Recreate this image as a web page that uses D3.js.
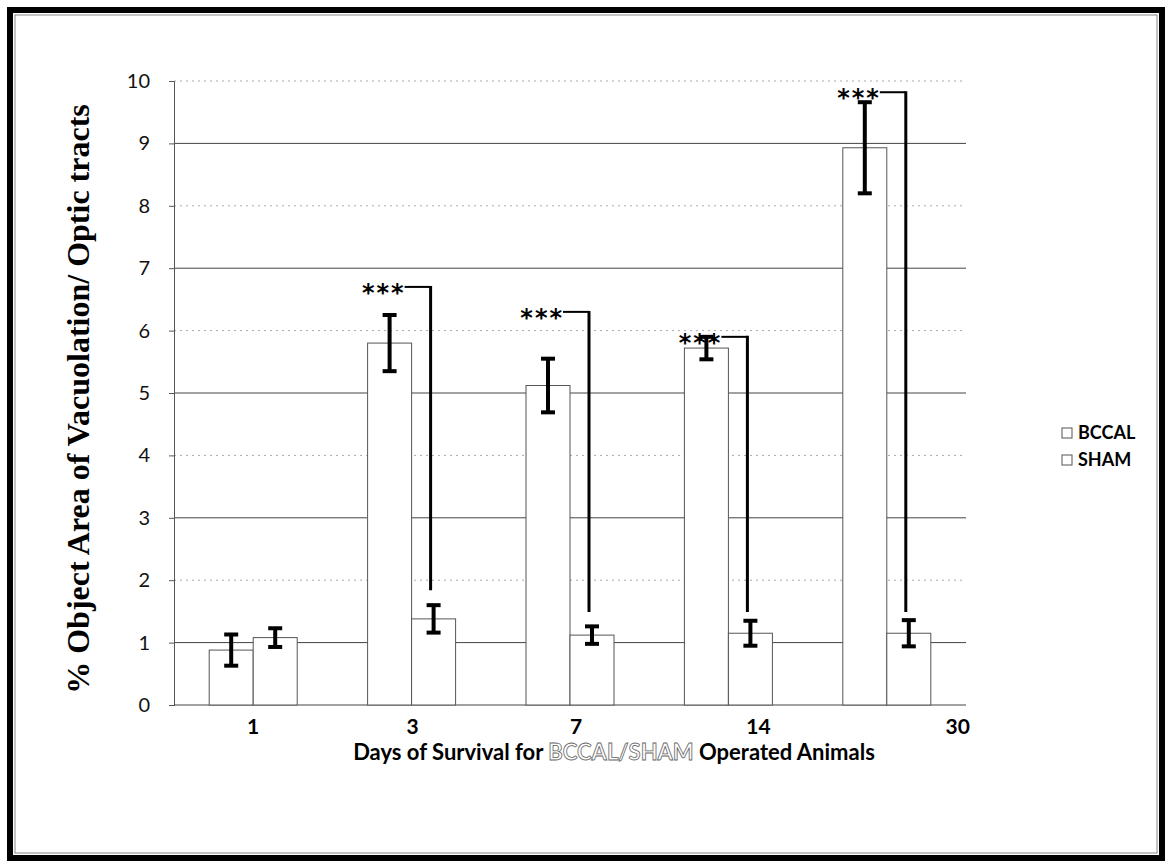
<!DOCTYPE html>
<html>
<head>
<meta charset="utf-8">
<script src="https://cdn.jsdelivr.net/npm/d3@7"></script>
<style>
  body { margin: 0; background: #fff; }
  svg { display: block; }
</style>
</head>
<body>
<div id="chart"></div>
<script>
// Chart data
const days = ["1", "3", "7", "14", "30"];
const series = ["BCCAL", "SHAM"];
const bccal = [0.88, 5.8, 5.12, 5.72, 8.93];
const bccalErr = [0.25, 0.45, 0.43, 0.18, 0.73];
const sham = [1.08, 1.38, 1.12, 1.15, 1.15];
const shamErr = [0.15, 0.22, 0.14, 0.2, 0.21];
const sigLabel = ["", "***", "***", "***", "***"];
const sigTop = [null, 6.7, 6.3, 5.9, 9.82];
const sigBottom = [null, 1.84, 1.49, 1.49, 1.49];
const yTicks = [0, 1, 2, 3, 4, 5, 6, 7, 8, 9, 10];

const width = 1167
const height = 862
const plot = { left: 174, right: 966, top: 81, bottom: 705 }
// the original day labels drift right of their groups
const labelNudge = [0, 1, 6, 30, 71]

const svg = d3.select("#chart")
  .append("svg")
  .attr("width", width)
  .attr("height", height)

// Frame
svg.append("rect")
  .attr("x", 10).attr("y", 10)
  .attr("width", 1152).attr("height", 848)
  .attr("fill", "none")
  .attr("stroke", "#000")
  .attr("stroke-width", 6)
svg.append("rect")
  .attr("x", 15).attr("y", 15)
  .attr("width", 1142).attr("height", 838)
  .attr("fill", "none")
  .attr("stroke", "#888")
  .attr("stroke-width", 1)

// Scales
const x = d3.scaleBand()
  .domain(days)
  .range([plot.left, plot.right])

const groupWidth = 88
const xSub = d3.scaleBand()
  .domain(series)
  .range([0, groupWidth])

const groupX = d => x(d) + (x.bandwidth() - groupWidth) / 2

const y = d3.scaleLinear()
  .domain([0, 10])
  .range([plot.bottom, plot.top])

// Gridlines
svg.append("g")
  .selectAll("line")
  .data(yTicks.filter(t => t > 0))
  .enter()
  .append("line")
  .attr("x1", plot.left)
  .attr("x2", plot.right)
  .attr("y1", d => y(d))
  .attr("y2", d => y(d))
  .attr("stroke", d => d % 2 ? "#444" : "#aaa")
  .attr("stroke-width", 1)
  .attr("stroke-dasharray", d => d % 2 ? null : "2,4")

// Add Y axis
const yAxis = svg.append("g")
  .attr("transform", "translate(" + plot.left + ",0)")
  .call(d3.axisLeft(y).tickValues(yTicks).tickSize(5).tickPadding(19))
yAxis.select(".domain").attr("stroke", "#555")
yAxis.selectAll(".tick line").attr("stroke", "#555")
yAxis.selectAll("text")
  .style("font-family", "Lato, 'Open Sans', sans-serif")
  .style("font-size", "20px")
  .attr("fill", "#111")

// Baseline
svg.append("line")
  .attr("x1", plot.left).attr("x2", plot.right)
  .attr("y1", y(0)).attr("y2", y(0))
  .attr("stroke", "#444")

// Add bars
const rows = days.map((d, i) => ({
  day: d, i,
  values: [
    { key: "BCCAL", value: bccal[i], err: bccalErr[i] },
    { key: "SHAM", value: sham[i], err: shamErr[i] }
  ]
}))

const groups = svg.append("g")
  .selectAll("g")
  .data(rows)
  .enter()
  .append("g")
  .attr("transform", d => "translate(" + groupX(d.day) + ",0)")

groups.selectAll("rect")
  .data(d => d.values)
  .enter()
  .append("rect")
  .attr("x", d => xSub(d.key))
  .attr("y", d => y(d.value))
  .attr("width", xSub.bandwidth())
  .attr("height", d => y(0) - y(d.value))
  .attr("fill", "#fff")
  .attr("stroke", "#555")
  .attr("stroke-width", 1)

// Error bars
const errs = groups.selectAll("g.err")
  .data(d => d.values)
  .enter()
  .append("g")
  .attr("class", "err")
  .attr("transform", d => "translate(" + (xSub(d.key) + xSub.bandwidth() / 2) + ",0)")
  .attr("stroke", "#000")
  .attr("stroke-width", 4)

errs.append("line")
  .attr("y1", d => y(d.value - d.err))
  .attr("y2", d => y(d.value + d.err))
errs.append("line")
  .attr("x1", -7).attr("x2", 7)
  .attr("y1", d => y(d.value - d.err))
  .attr("y2", d => y(d.value - d.err))
errs.append("line")
  .attr("x1", -7).attr("x2", 7)
  .attr("y1", d => y(d.value + d.err))
  .attr("y2", d => y(d.value + d.err))

// Significance brackets
const sig = groups.filter(d => sigTop[d.i] !== null)
  .append("g")
  .attr("transform", d => "translate(" + (xSub("SHAM") + xSub.bandwidth() / 2 - 3) + ",0)")

sig.append("line")
  .attr("x1", 0).attr("x2", 0)
  .attr("y1", d => y(sigTop[d.i]) - 1)
  .attr("y2", d => y(sigBottom[d.i]))
  .attr("stroke", "#000")
  .attr("stroke-width", 3)
sig.append("line")
  .attr("x1", -26).attr("x2", 0)
  .attr("y1", d => y(sigTop[d.i]))
  .attr("y2", d => y(sigTop[d.i]))
  .attr("stroke", "#000")
  .attr("stroke-width", 2)
sig.append("text")
  .attr("x", -25)
  .attr("y", d => y(sigTop[d.i]) + 14)
  .attr("text-anchor", "end")
  .style("font-family", "'DejaVu Sans', sans-serif")
  .style("font-size", "24px")
  .style("font-weight", "700")
  .style("letter-spacing", "2px")
  .text(d => sigLabel[d.i])

// Add X labels
svg.append("g")
  .selectAll("text")
  .data(days)
  .enter()
  .append("text")
  .attr("x", (d, i) => x(d) + x.bandwidth() / 2 + labelNudge[i])
  .attr("y", 734)
  .attr("text-anchor", "middle")
  .style("font-family", "Lato, 'Open Sans', sans-serif")
  .style("font-size", "21px")
  .style("font-weight", "700")
  .text(d => d)

// X axis title
const xTitle = svg.append("text")
  .attr("x", 614)
  .attr("y", 760)
  .attr("text-anchor", "middle")
  .style("font-family", "Lato, 'Open Sans', sans-serif")
  .style("font-size", "22px")
  .style("font-weight", "700")
xTitle.append("tspan").text("Days of Survival for ")
xTitle.append("tspan")
  .attr("fill", "#fff")
  .attr("stroke", "#666")
  .attr("stroke-width", 0.8)
  .text("BCCAL/SHAM")
xTitle.append("tspan").text(" Operated Animals")

// Y axis title
svg.append("text")
  .attr("transform", "translate(89," + ((plot.top + plot.bottom) / 2 + 6) + ")rotate(-90)")
  .attr("text-anchor", "middle")
  .style("font-family", "'Liberation Serif', 'Times New Roman', serif")
  .style("font-size", "32px")
  .style("font-weight", "700")
  .text("% Object Area of Vacuolation/ Optic tracts")

// Add legend
const legend = svg.append("g")
  .selectAll("g")
  .data(series)
  .enter()
  .append("g")
  .attr("transform", (d, i) => "translate(1062," + (433 + i * 27) + ")")

legend.append("rect")
  .attr("x", 0).attr("y", -5)
  .attr("width", 10).attr("height", 10)
  .attr("fill", "#fff")
  .attr("stroke", "#555")
legend.append("text")
  .attr("x", 16)
  .attr("y", 6)
  .style("font-family", "Lato, 'Open Sans', sans-serif")
  .style("font-size", "18px")
  .style("font-weight", "700")
  .text(d => d)
</script>
</body>
</html>
